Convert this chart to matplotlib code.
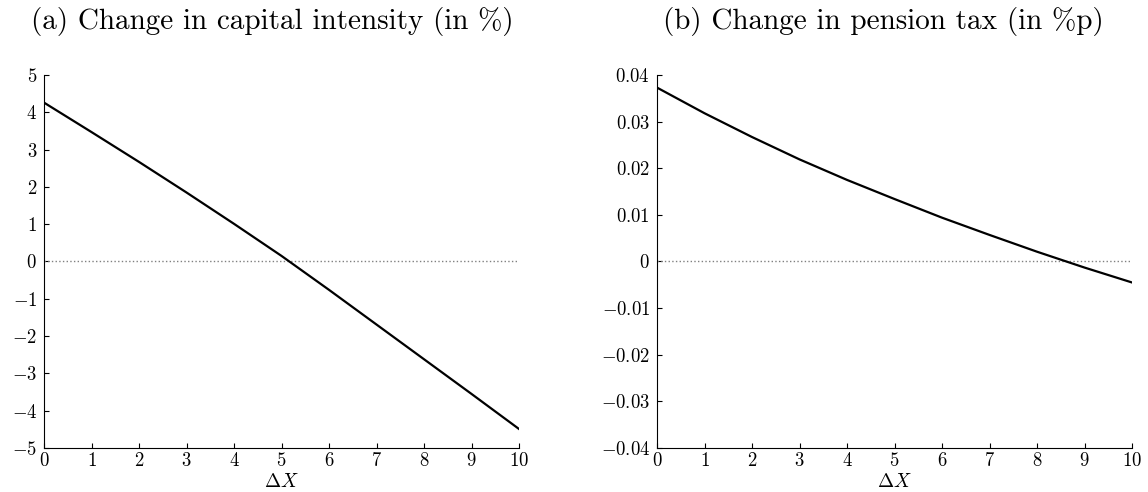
import matplotlib
matplotlib.use('Agg')
import matplotlib.pyplot as plt
from matplotlib.ticker import FuncFormatter, MultipleLocator

plt.rcParams['font.family'] = 'serif'
plt.rcParams['font.serif'] = ['cmr10']
plt.rcParams['mathtext.fontset'] = 'cm'
plt.rcParams['axes.formatter.use_mathtext'] = True

# values
dx = [0, 1, 2, 3, 4, 5, 6, 7, 8, 9, 10]
capital = [4.26, 3.47, 2.67, 1.85, 1.01, 0.15, -0.76, -1.69, -2.62, -3.55, -4.49]
pension = [0.0373, 0.0318, 0.0267, 0.0219, 0.0175, 0.0134, 0.0094, 0.0057, 0.0021, -0.0013, -0.0045]

titles = ['(a) Change in capital intensity (in %)', '(b) Change in pension tax (in %p)']
ylims = [(-5, 5), (-0.04, 0.04)]
ysteps = [1, 0.01]
series = [capital, pension]

fig = plt.figure(figsize=(11.48, 4.92), dpi=100)
lefts = [44/1148, 657/1148]
W = 475/1148
B = 1-448/492
H = 373/492
title_x = [272/1148, 883/1148]

fmt = FuncFormatter(lambda v, p: '$%g$' % round(v, 6))

for k in range(2):
    ax = fig.add_axes([lefts[k], B, W, H])
    ax.plot(dx, [0]*len(dx), ls=':', color='gray', lw=1)
    ax.plot(dx, series[k], color='black', lw=1.6)
    ax.set_xlim(0, 10)
    ax.set_ylim(*ylims[k])
    ax.xaxis.set_major_locator(MultipleLocator(1))
    ax.yaxis.set_major_locator(MultipleLocator(ysteps[k]))
    ax.xaxis.set_major_formatter(fmt)
    ax.yaxis.set_major_formatter(fmt)
    ax.spines['top'].set_visible(False)
    ax.spines['right'].set_visible(False)
    ax.tick_params(direction='in', length=3.5, width=0.8, labelsize=13.5, pad=3)
    ax.tick_params(axis='y', pad=5)
    ax.set_xlabel(r'$\Delta X$', fontsize=14, labelpad=2)
    fig.text(title_x[k], 1-21/492, titles[k], ha='center', va='center', fontsize=21)

fig.savefig('out.png', dpi=100)
